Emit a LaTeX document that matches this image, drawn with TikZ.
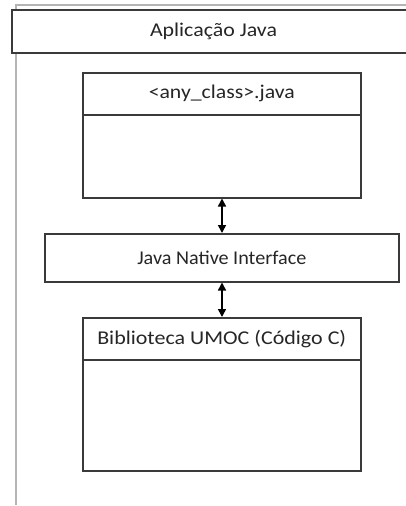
\documentclass[tikz,border=0pt]{standalone}
\usepackage{fontspec}
\usepackage{graphicx}
\setmainfont{Carlito}
\usetikzlibrary{arrows.meta}
\definecolor{edge}{HTML}{3A3A3A}
\definecolor{frame}{HTML}{B4B4B4}
\definecolor{ink}{HTML}{262626}
% set a label to a given width (in pt), stretching it horizontally only
\newcommand\fitlabel[2]{\sbox0{#2}\pgfmathsetmacro\fitratio{#1/\the\wd0}\scalebox{\fitratio}[1]{#2}}
\begin{document}
\begin{tikzpicture}[x=1pt,y=-1pt,
  label font/.style={font=\fontsize{19.5}{23}\selectfont,text=ink},
  box/.style={draw=edge,line width=1.5pt,fill=white,inner sep=0pt,label font},
  link/.style={draw=black,line width=1.5pt,{Triangle[length=8pt,width=8pt]}-{Triangle[length=8pt,width=8pt]}}]
\useasboundingbox (0,0) rectangle (406,506);
% outer frame of the application
\draw[frame,line width=1.6pt] (16,505) -- (16,5) -- (420,5);
% application title bar
\node[box,anchor=north west,minimum width=410pt,minimum height=43pt] (app) at (11,9) {};
\node[label font] (apptitle) at (213.5,31) {\fitlabel{127}{Aplicação Java}};
% Java class compartment box
\node[box,anchor=north west,minimum width=278pt,minimum height=42pt] (clshead) at (82,72) {\fitlabel{146}{<any\_class>.java}};
\node[box,anchor=north west,minimum width=278pt,minimum height=83pt] (clsbody) at (82,114) {};
% JNI layer
\node[box,anchor=north west,minimum width=354pt,minimum height=48pt] (jni) at (44,233) {\fitlabel{169}{Java Native Interface}};
% native library compartment box
\node[box,anchor=north west,minimum width=278pt,minimum height=42pt] (libhead) at (82,317) {\fitlabel{249}{Biblioteca UMOC (Código C)}};
\node[box,anchor=north west,minimum width=278pt,minimum height=111pt] (libbody) at (82,359) {};
% bidirectional calls
\draw[link] (clsbody.south -| 222,0) -- (jni.north -| 222,0);
\draw[link] (jni.south -| 222,0) -- (libhead.north -| 222,0);
\end{tikzpicture}
\end{document}
